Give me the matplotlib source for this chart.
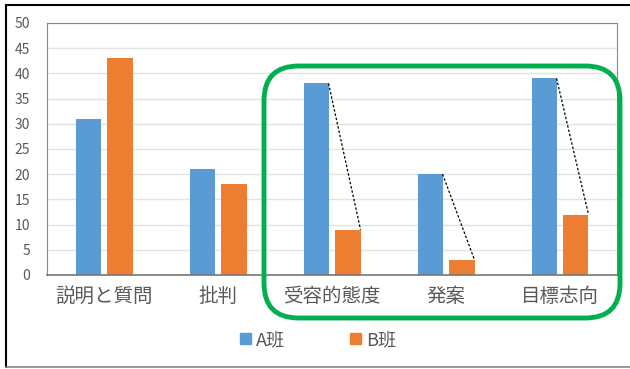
import matplotlib
matplotlib.use('Agg')
import matplotlib.pyplot as plt
import numpy as np
from matplotlib.patches import FancyBboxPatch, Patch
from matplotlib.lines import Line2D

plt.rcParams['font.family'] = ['Noto Sans CJK JP', 'DejaVu Sans']

categories = ['説明と質問', '批判', '受容的態度', '発案', '目標志向']
a_vals = [31, 21, 38, 20, 39]
b_vals = [43, 18, 9, 3, 12]
series_names = ['A班', 'B班']
highlight = [2, 3, 4]  # categories joined by dashed lines

blue = '#5B9BD5'
orange = '#ED7D31'
text_col = '#595959'

fig = plt.figure(figsize=(6.3, 3.69), dpi=100)
ax = fig.add_axes([47/630, 1 - 275/369, 570/630, 252/369])

x = np.arange(len(categories))
w = 0.22
off = 0.14
ax.bar(x - off, a_vals, w, color=blue, zorder=3)
ax.bar(x + off, b_vals, w, color=orange, zorder=3)

# dashed lines from top-right of A bar to top-right of B bar
for i in highlight:
    ax.plot([x[i] - off + w/2, x[i] + off + w/2], [a_vals[i], b_vals[i]],
            color='black', linestyle=(0, (2, 1.5)), linewidth=0.9, zorder=4)

ax.set_xlim(-0.5, len(categories) - 0.5)
ax.set_ylim(0, 50)
ax.set_yticks(range(0, 51, 5))
ax.set_xticks(x)
ax.set_xticklabels(categories, fontsize=14, color=text_col)
ax.tick_params(axis='y', length=0, pad=12, labelsize=10, labelcolor=text_col)
ax.tick_params(axis='x', length=0, pad=8)
ax.grid(axis='y', color='#E3E3E3', linewidth=1, zorder=0)
for s in ['left', 'top', 'right']:
    ax.spines[s].set_color('#888888')
ax.spines['bottom'].set_color('#777777')
ax.spines['bottom'].set_linewidth(1.2)
ax.spines['bottom'].set_zorder(5)

handles = [Patch(color=blue), Patch(color=orange)]
fig.legend(handles, series_names, loc='center', bbox_to_anchor=(318/630, 1 - 340/369),
           ncol=2, frameon=False, fontsize=13, labelcolor=text_col,
           handlelength=0.6, handleheight=0.6, handletextpad=0.3, columnspacing=3.6)

# green rounded box around the last three categories
gx0, gx1 = 264/630, 620/630
gy0, gy1 = 1 - 318/369, 1 - 66/369
box = FancyBboxPatch((gx0, gy0), gx1 - gx0, gy1 - gy0,
                     boxstyle='round,pad=0,rounding_size=0.055',
                     transform=fig.transFigure, fill=False,
                     edgecolor='#00B050', linewidth=3.5, zorder=10,
                     mutation_aspect=630/369)
fig.add_artist(box)

# outer frame of the pasted picture
fig.add_artist(Line2D([6/630, 6/630], [1 - 5/369, 1 - 367/369], transform=fig.transFigure,
                      color='black', linewidth=1.5))
fig.add_artist(Line2D([6/630, 1], [1 - 5/369, 1 - 5/369], transform=fig.transFigure,
                      color='black', linewidth=1.5))
fig.add_artist(Line2D([6/630, 1], [1 - 367/369, 1 - 367/369], transform=fig.transFigure,
                      color='#888888', linewidth=1.2))

fig.savefig('out.png', dpi=100)
